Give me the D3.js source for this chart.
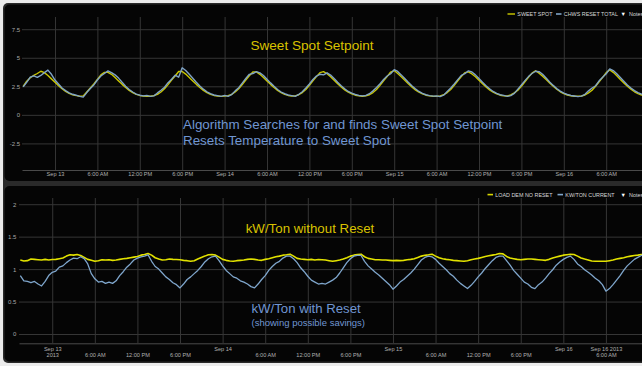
<!DOCTYPE html>
<html><head><meta charset="utf-8">
<script src="https://cdn.jsdelivr.net/npm/d3@7/dist/d3.min.js"></script>
<style>html,body{margin:0;padding:0;background:#ececec;overflow:hidden}svg{display:block}</style>
</head><body><svg id="c" width="642" height="366"></svg>
<script>
// ---- DATA ----
const startTime = new Date(2013, 8, 12, 19, 30); // first sample
const stepMinutes = 30;

const sweetSpot = [
2.50,2.95,3.25,3.45,3.62,3.82,3.70,3.45,3.15,2.85,
2.55,2.28,2.05,1.88,1.75,1.68,1.63,1.66,2.00,2.35,
2.70,3.10,3.50,3.72,3.72,3.55,3.27,2.97,2.67,2.39,
2.14,1.95,1.80,1.70,1.65,1.63,1.63,1.68,1.80,2.00,
2.28,2.65,3.05,3.40,3.80,3.80,3.57,3.27,2.97,2.67,
2.39,2.14,1.95,1.80,1.70,1.65,1.62,1.64,1.68,1.80,
2.00,2.28,2.65,3.05,3.42,3.75,3.76,3.55,3.27,2.97,
2.67,2.39,2.14,1.95,1.80,1.70,1.65,1.66,1.76,1.95,
2.22,2.58,2.98,3.35,3.70,3.78,3.60,3.33,3.03,2.73,
2.45,2.19,1.98,1.83,1.72,1.66,1.63,1.66,1.76,1.95,
2.22,2.58,2.98,3.35,3.75,3.88,3.62,3.33,3.03,2.73,
2.45,2.19,1.98,1.83,1.72,1.66,1.63,1.62,1.66,1.76,
1.95,2.22,2.58,2.98,3.35,3.70,3.76,3.58,3.33,3.03,
2.73,2.45,2.19,1.98,1.83,1.72,1.66,1.65,1.74,1.92,
2.16,2.50,2.90,3.28,3.65,3.86,3.65,3.39,3.09,2.79,
2.50,2.24,2.02,1.86,1.74,1.67,1.63,1.63,1.65,1.74,
1.92,2.16,2.50,2.90,3.28,3.70,3.94,3.72,3.42,3.10,
2.80,2.50,2.24,2.02,1.86,1.74,1.67,1.63];

const chwsResetTotal = [
2.45,2.85,3.30,3.42,3.28,3.45,3.70,3.92,3.55,3.05,
2.70,2.35,2.12,1.92,1.80,1.72,1.62,1.55,1.95,2.30,
2.62,3.05,3.40,3.62,3.85,3.70,3.50,3.22,2.85,2.50,
2.22,2.00,1.82,1.72,1.66,1.70,1.62,1.66,1.92,2.15,
2.42,2.82,3.12,3.48,3.30,4.12,3.88,3.55,3.20,2.85,
2.52,2.25,2.02,1.86,1.74,1.68,1.62,1.70,1.62,1.78,
2.10,2.38,2.78,3.18,3.55,3.62,3.78,3.68,3.45,3.12,
2.80,2.50,2.22,2.00,1.85,1.74,1.68,1.62,1.80,2.02,
2.35,2.70,3.10,3.40,3.55,3.50,3.68,3.48,3.18,2.85,
2.55,2.28,2.05,1.90,1.78,1.70,1.66,1.70,1.85,2.10,
2.40,2.72,3.10,3.40,3.60,3.95,3.80,3.50,3.18,2.85,
2.55,2.28,2.05,1.88,1.76,1.68,1.64,1.66,1.60,1.72,
2.05,2.35,2.70,3.08,3.45,3.60,3.85,3.75,3.50,3.18,
2.85,2.55,2.28,2.05,1.88,1.76,1.70,1.62,1.68,1.88,
2.25,2.62,3.00,3.35,3.62,3.82,3.78,3.55,3.22,2.88,
2.58,2.30,2.08,1.90,1.78,1.70,1.65,1.60,1.64,1.80,
2.10,2.35,2.55,2.98,3.30,3.60,4.02,3.88,3.60,3.28,
2.95,2.62,2.35,2.12,1.95,1.82,1.72,1.66];

const loadDemNoReset = [
1.140,1.125,1.130,1.155,1.150,1.145,1.140,1.150,1.140,1.148,
1.150,1.160,1.170,1.200,1.220,1.215,1.225,1.210,1.180,1.150,
1.135,1.120,1.130,1.145,1.140,1.145,1.135,1.140,1.150,1.160,
1.165,1.175,1.185,1.195,1.215,1.225,1.240,1.215,1.175,1.155,
1.140,1.145,1.155,1.150,1.148,1.145,1.135,1.130,1.120,1.130,
1.155,1.180,1.200,1.222,1.225,1.215,1.185,1.150,1.135,1.125,
1.120,1.130,1.135,1.140,1.150,1.155,1.150,1.140,1.135,1.150,
1.160,1.175,1.190,1.200,1.215,1.220,1.230,1.200,1.165,1.155,
1.150,1.145,1.150,1.140,1.148,1.145,1.140,1.130,1.120,1.130,
1.140,1.155,1.175,1.200,1.215,1.225,1.230,1.190,1.165,1.155,
1.145,1.145,1.140,1.140,1.135,1.130,1.135,1.130,1.135,1.145,
1.150,1.160,1.180,1.200,1.212,1.220,1.230,1.200,1.175,1.160,
1.150,1.145,1.135,1.130,1.125,1.120,1.130,1.145,1.155,1.165,
1.180,1.195,1.205,1.215,1.225,1.240,1.235,1.195,1.170,1.160,
1.150,1.145,1.150,1.155,1.155,1.150,1.145,1.140,1.135,1.150,
1.170,1.185,1.200,1.215,1.222,1.228,1.225,1.200,1.172,1.155,
1.140,1.125,1.120,1.122,1.120,1.120,1.130,1.140,1.155,1.165,
1.175,1.190,1.200,1.210,1.215,1.225,1.228,1.230];

const kwTonCurrent = [
0.90,0.82,0.81,0.79,0.81,0.77,0.74,0.81,0.90,0.95,
0.97,1.03,1.05,1.10,1.14,1.17,1.16,1.19,1.16,1.08,
0.93,0.85,0.80,0.81,0.78,0.80,0.78,0.82,0.90,0.96,
1.03,1.08,1.14,1.17,1.19,1.20,1.22,1.12,1.04,1.00,
0.94,0.88,0.84,0.79,0.76,0.71,0.77,0.84,0.88,0.93,
0.98,1.04,1.11,1.16,1.19,1.20,1.13,1.05,0.98,0.93,
0.88,0.86,0.82,0.80,0.77,0.73,0.71,0.77,0.84,0.90,
0.98,1.04,1.09,1.12,1.17,1.20,1.20,1.16,1.10,1.02,
0.96,0.89,0.83,0.80,0.77,0.78,0.77,0.80,0.83,0.87,
0.94,1.02,1.10,1.16,1.20,1.21,1.21,1.12,1.05,1.00,
0.95,0.91,0.86,0.81,0.76,0.69,0.74,0.80,0.84,0.89,
0.94,1.00,1.07,1.14,1.18,1.20,1.19,1.15,1.09,1.04,
0.99,0.93,0.89,0.83,0.78,0.74,0.70,0.75,0.81,0.88,
0.94,1.01,1.07,1.13,1.18,1.20,1.20,1.13,1.06,0.98,
0.92,0.86,0.80,0.77,0.72,0.70,0.76,0.80,0.86,0.93,
0.99,1.06,1.11,1.15,1.18,1.20,1.15,1.08,1.04,0.99,
0.95,0.91,0.86,0.82,0.76,0.66,0.70,0.76,0.83,0.90,
0.98,1.05,1.10,1.15,1.18,1.21,1.22,1.22];

const topYTicks = [-2.5, 0, 2.5, 5, 7.5];
const topYLabels = ["-2.5", "0", "2.5", "5", "7.5"];
const bottomYTicks = [0, 0.5, 1, 1.5, 2];
const bottomYLabels = ["0", "0.5", "1", "1.5", "2"];

const topXLabels = ["Sep 13","6:00 AM","12:00 PM","6:00 PM","Sep 14","6:00 AM","12:00 PM","6:00 PM","Sep 15","6:00 AM","12:00 PM","6:00 PM","Sep 16","6:00 AM"];
const bottomXLine1 = ["Sep 13","","","","Sep 14","","","","Sep 15","","","","Sep 16","Sep 16 2013"];
const bottomXLine2 = ["2013","6:00 AM","12:00 PM","6:00 PM","","6:00 AM","12:00 PM","6:00 PM","","6:00 AM","12:00 PM","6:00 PM","","6:00 AM"];

const topLegend = ["SWEET SPOT", "CHWS RESET TOTAL"];
const bottomLegend = ["LOAD DEM NO RESET", "KW/TON CURRENT"];

// ---- DRAWING ----
const W = 642, H = 366;
const svg = d3.select("#c");
const FONT = "'Liberation Sans', Arial, sans-serif";
const times = sweetSpot.map((_, i) => d3.timeMinute.offset(startTime, i * stepMinutes));
const sep13 = new Date(2013, 8, 13);
const tickTimes = topXLabels.map((_, i) => d3.timeHour.offset(sep13, i * 6));

svg.append("rect").attr("width", W).attr("height", H).attr("fill", "#ececec");
svg.append("rect").attr("x", 3).attr("y", 3).attr("width", W + 10).attr("height", 360).attr("rx", 5).attr("fill", "#2a2a2a");
svg.append("rect").attr("x", 4.5).attr("y", 4.5).attr("width", W + 10).attr("height", 176.5).attr("rx", 5).attr("fill", "#050505");
svg.append("rect").attr("x", 4.5).attr("y", 186).attr("width", W + 10).attr("height", 175.5).attr("rx", 5).attr("fill", "#050505");

const defs = svg.append("defs");

function panel(cfg) {
  const x = d3.scaleTime().domain(cfg.xDomain).range([cfg.left, W]);
  const y = d3.scaleLinear().domain(cfg.yDomain).range(cfg.yRange);
  const g = svg.append("g");

  // y grid
  const gy = g.append("g").attr("transform", `translate(${cfg.left},0)`)
    .call(d3.axisLeft(y).tickValues(cfg.yTicks).tickSizeInner(-(W - cfg.left)).tickSizeOuter(0)
      .tickPadding(cfg.yPad).tickFormat((d, i) => cfg.yLabels[i]));
  gy.select(".domain").remove();
  gy.selectAll(".tick line").attr("stroke", "#363636").attr("stroke-width", 1);
  gy.selectAll(".tick text").attr("fill", "#a8a8a8").attr("font-size", 6).attr("font-family", FONT);

  // x grid + axis
  const gx = g.append("g").attr("transform", `translate(0,${cfg.bottom})`)
    .call(d3.axisBottom(x).tickValues(tickTimes).tickSizeInner(-(cfg.bottom - cfg.top)).tickSizeOuter(0)
      .tickPadding(1).tickFormat(""));
  gx.select(".domain").attr("stroke", "#4a4a4a");
  gx.selectAll(".tick line").attr("stroke", "#363636").attr("stroke-width", 1);
  gx.selectAll(".tick text").remove();
  const ticks = gx.selectAll(".tick");
  cfg.xLines.forEach((labels, li) => {
    ticks.append("text")
      .attr("y", cfg.xBase[li]).attr("text-anchor", "middle")
      .attr("fill", "#b0b0b0").attr("font-size", 5.6).attr("font-family", FONT)
      .text((d, i) => labels[i]);
  });

  // clip
  const id = "clip" + cfg.name;
  defs.append("clipPath").attr("id", id).append("rect")
    .attr("x", cfg.left).attr("y", cfg.top).attr("width", W - cfg.left).attr("height", cfg.bottom - cfg.top);
  const lines = g.append("g").attr("clip-path", `url(#${id})`);
  cfg.series.forEach(s => {
    const line = d3.line().x((d, i) => x(times[i])).y(d => y(d));
    lines.append("path").datum(s.values).attr("fill", "none")
      .attr("stroke", s.color).attr("stroke-width", s.width).attr("stroke-linejoin", "round")
      .attr("d", line);
  });

  // legend
  const lg = g.append("g").attr("font-family", FONT).attr("font-size", 5.4);
  cfg.legend.forEach((lab, i) => {
    lg.append("rect").attr("x", cfg.legendX[i]).attr("y", cfg.legendY - 2.8).attr("width", cfg.legendDash[i]).attr("height", 1.6)
      .attr("fill", cfg.series[i].legendColor);
    lg.append("text").attr("x", cfg.legendX[i] + cfg.legendDash[i] + 2.3).attr("y", cfg.legendY)
      .attr("fill", "#d8d8d8").text(lab);
  });
  lg.append("text").attr("x", cfg.noteX).attr("y", cfg.legendY).attr("fill", "#ffffff").attr("font-size", 5.5).text("\u25BC");
  lg.append("text").attr("x", cfg.noteX + 8.5).attr("y", cfg.legendY).attr("fill", "#d8d8d8").text("Notes");
  return g;
}

panel({
  name: "top", left: 22, top: 17, bottom: 170,
  xDomain: [new Date(2013, 8, 12, 19, 20), new Date(2013, 8, 16, 11, 4)],
  yDomain: [-2.5, 7.5], yRange: [143.4, 29.2], yTicks: topYTicks, yLabels: topYLabels, yPad: 1.8,
  xLines: [topXLabels], xBase: [5.6],
  series: [
    { values: sweetSpot, color: "#c9c600", width: 1.4, legendColor: "#b5b300" },
    { values: chwsResetTotal, color: "#7fa3c6", width: 1.4, legendColor: "#7fa3c6" }
  ],
  legend: topLegend, legendX: [507.5, 556], legendDash: [7.5, 5.5], legendY: 16, noteX: 620.5
});

panel({
  name: "bottom", left: 19, top: 198, bottom: 343.3,
  xDomain: [new Date(2013, 8, 12, 19, 19), new Date(2013, 8, 16, 11, 5)],
  yDomain: [0, 2], yRange: [334, 204.2], yTicks: bottomYTicks, yLabels: bottomYLabels, yPad: 2.6,
  xLines: [bottomXLine1, bottomXLine2], xBase: [7.7, 13.4],
  series: [
    { values: loadDemNoReset, color: "#e2e200", width: 1.6, legendColor: "#d6d600" },
    { values: kwTonCurrent, color: "#7fa6cc", width: 1.3, legendColor: "#7fa6cc" }
  ],
  legend: bottomLegend, legendX: [487.5, 557.5], legendDash: [5.5, 5.5], legendY: 196.6, noteX: 620.5
});

// annotations
const ann = svg.append("g").attr("font-family", FONT);
ann.append("text").attr("x", 312).attr("y", 50).attr("text-anchor", "middle").attr("font-size", 13.6)
  .attr("fill", "#d9c200").text("Sweet Spot Setpoint");
ann.append("text").attr("x", 183).attr("y", 128.5).attr("font-size", 13.4)
  .attr("fill", "#7096d2").text("Algorithm Searches for and finds Sweet Spot Setpoint");
ann.append("text").attr("x", 183).attr("y", 144.5).attr("font-size", 13.4)
  .attr("fill", "#7096d2").text("Resets Temperature to Sweet Spot");
ann.append("text").attr("x", 310).attr("y", 232.5).attr("text-anchor", "middle").attr("font-size", 13.3)
  .attr("fill", "#d9c200").text("kW/Ton without Reset");
ann.append("text").attr("x", 251.5).attr("y", 313.3).attr("font-size", 13.2)
  .attr("fill", "#7096d2").text("kW/Ton with Reset");
ann.append("text").attr("x", 251.5).attr("y", 325.5).attr("font-size", 9.5)
  .attr("fill", "#7096d2").text("(showing possible savings)");
</script>
</body></html>
